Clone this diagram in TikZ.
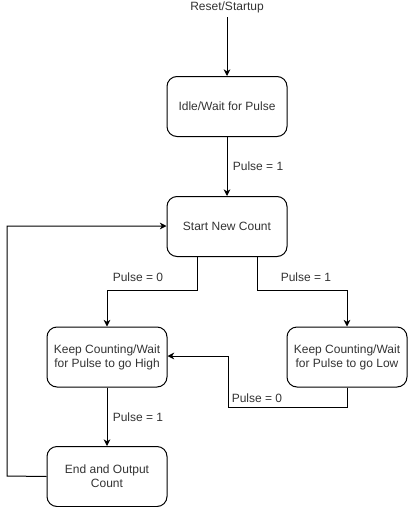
\documentclass[tikz,border=0pt]{standalone}
\usepackage{fontspec}
\setmainfont{Liberation Sans}
\usetikzlibrary{arrows.meta}
\definecolor{txt}{HTML}{333333}
\begin{document}
\begin{tikzpicture}[x=0.75pt,y=-0.75pt,
  state/.style={draw=black, line width=0.75pt, rounded corners=7.5pt, minimum width=90pt, minimum height=45pt, align=center, text=txt, font=\fontsize{9}{10.5}\selectfont, inner sep=0pt},
  lbl/.style={text=txt, font=\fontsize{9}{10.5}\selectfont, inner sep=0pt},
  conn/.style={draw=black, line width=0.75pt, -{Stealth[length=5pt,width=5pt,inset=1.5pt]}}]
\useasboundingbox (0,0) rectangle (409,507);
\node[lbl] (reset) at (227,7) {Reset/Startup};
\node[state] (idle) at (227,106.5) {Idle/Wait for Pulse};
\node[state] (start) at (227,226.5) {Start New Count};
\node[state] (high) at (107,357) {Keep Counting/Wait\\for Pulse to go High};
\node[state] (low) at (347,357) {Keep Counting/Wait\\for Pulse to go Low};
\node[state] (endc) at (107,476.5) {End and Output\\Count};
\coordinate (rs) at (227,17);
\coordinate (sl) at (197,290);
\coordinate (sr) at (257,290);
\coordinate (lb) at (347,407);
\coordinate (mb) at (228,407);
\coordinate (mt) at (228,356);
\coordinate (el) at (7,476);
\coordinate (et) at (7,226);
\draw[conn] (rs) -- (idle.north);
\draw[conn] (idle) -- node[lbl, right=4pt] {Pulse = 1} (start);
\draw[conn] (start.south -| sl) -- (sl) -| (high.north);
\node[lbl] (l0) at (138,277) {Pulse = 0};
\draw[conn] (start.south -| sr) -- (sr) -| (low.north);
\node[lbl] (l1) at (306,277) {Pulse = 1};
\draw[conn] (low.south) -- (lb) -- (mb) -- (mt) -- (high.east |- mt);
\node[lbl] (l2) at (257,398) {Pulse = 0};
\draw[conn] (high) -- (endc);
\node[lbl] (l3) at (138,417) {Pulse = 1};
\draw[conn] (endc.west) -- (el) -- (et) -- (start.west |- et);
\end{tikzpicture}
\end{document}
